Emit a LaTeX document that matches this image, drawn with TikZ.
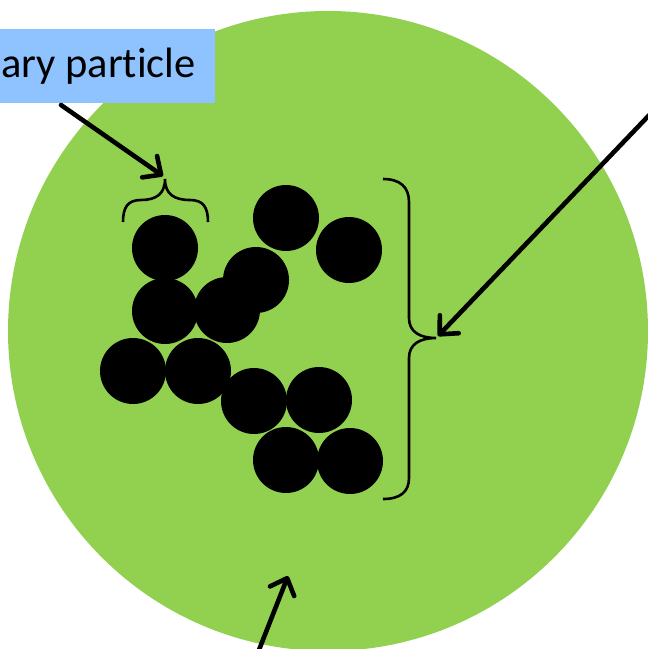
\documentclass[tikz,border=0pt]{standalone}
\usepackage{fontspec}
\setmainfont[Ligatures=NoCommon]{Carlito}
\usetikzlibrary{arrows.meta}
\definecolor{cellgreen}{HTML}{92D050}
\definecolor{labelblue}{HTML}{8EC3FF}
\tikzset{
  particle/.style={circle, fill=black, minimum size=66pt, inner sep=0pt},
  pointer/.style={line width=4.6pt, line cap=round, -{Straight Barb[length=14pt, width=26pt, line width=4.6pt, line cap=round, round]}},
  bracket/.style={line width=2.6pt, line cap=butt},
  labelbox/.style={fill=labelblue, minimum width=215pt, minimum height=74pt, inner sep=0pt, anchor=north west},
}
\begin{document}
\begin{tikzpicture}[x=1pt,y=-1pt]
\useasboundingbox (0,0) rectangle (648,649);
\clip (0,0) rectangle (648,649);
% agglomerate body
\fill[cellgreen] (328,331) circle (320);
% label
\node[labelbox] (lbl) at (0,29) {};
\node[anchor=base east, font=\fontsize{42.5}{50}\selectfont, inner sep=0pt] (lbltext) at (196,77) {ary particle};
% particles
\node[particle] (p1) at (165,248) {};
\node[particle] (p2) at (286,218) {};
\node[particle] (p3) at (349,250) {};
\node[particle] (p5) at (165,311) {};
\node[particle] (p6) at (227,310) {};
\node[particle] (p4) at (256,280) {};
\node[particle] (p7) at (133,371) {};
\node[particle] (p8) at (198,371) {};
\node[particle] (p9) at (254,401) {};
\node[particle] (p10) at (319,400) {};
\node[particle] (p11) at (286,460) {};
\node[particle] (p12) at (350,461) {};
% small brace
\coordinate (sbtip) at (165,179);
\draw[bracket] (123,222) .. controls (123,207) and (128,200) .. (141,200)
  .. controls (156,200) and (165,194) .. (sbtip)
  .. controls (165,194) and (174,200) .. (190,200)
  .. controls (203,200) and (208,207) .. (208,222);
% big brace
\coordinate (bbtip) at (436,338);
\draw[bracket] (383,179) .. controls (400,179) and (409,187) .. (409,202) -- (409,318)
  .. controls (409,332) and (420,338) .. (bbtip)
  .. controls (420,338) and (409,344) .. (409,358) -- (409,478)
  .. controls (409,492) and (400,499) .. (383,499);
% pointers
\coordinate (a1s) at (61,105);
\coordinate (a1e) at (163,176);
\coordinate (a2s) at (656,108);
\coordinate (a2e) at (438,336);
\coordinate (a3s) at (257,655);
\coordinate (a3e) at (288,576);
\draw[pointer] (a1s) -- (a1e);
\draw[pointer] (a2s) -- (a2e);
\draw[pointer] (a3s) -- (a3e);
\end{tikzpicture}
\end{document}
